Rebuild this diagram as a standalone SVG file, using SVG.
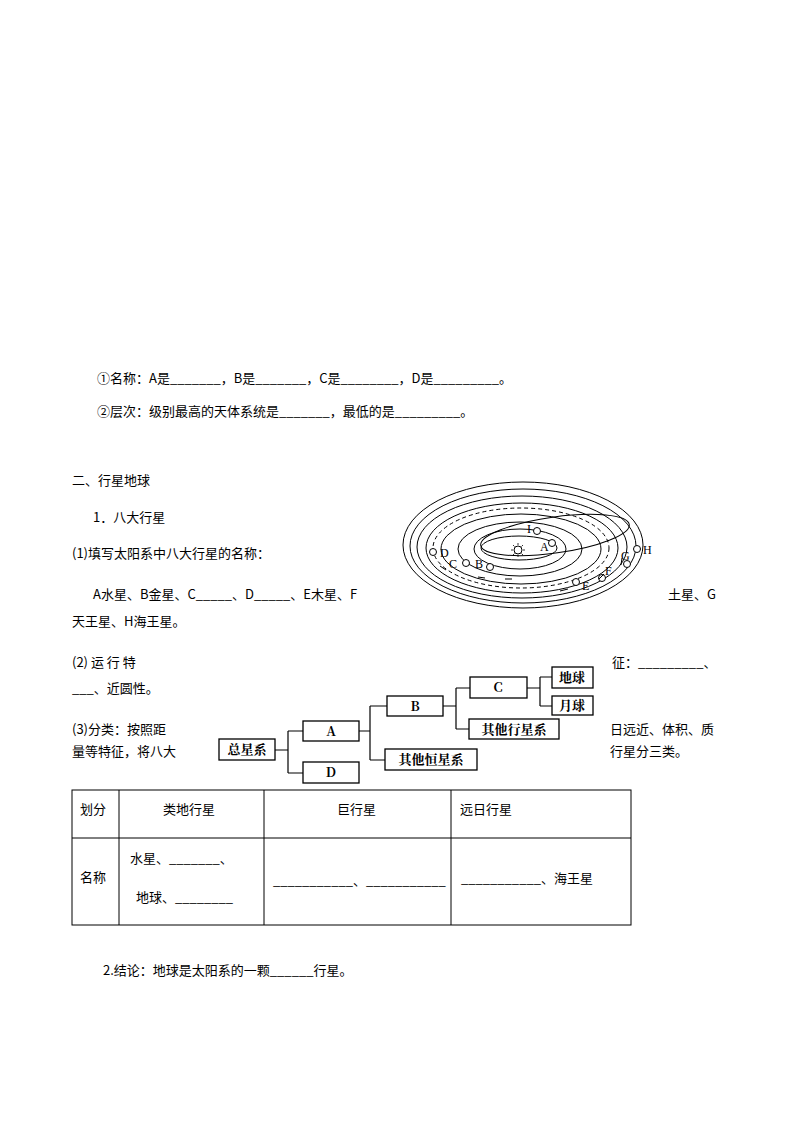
<svg xmlns="http://www.w3.org/2000/svg" width="793" height="1122" viewBox="0 0 793 1122">
<style>
text{font-family:"Liberation Serif","Noto Sans CJK SC",serif;font-size:13px;fill:#000}
.s{font-family:"Noto Sans CJK SC",sans-serif;font-size:13px}
.b{fill:#fff;stroke:#000;stroke-width:1.3}
.bt{font-family:"Noto Serif CJK SC","Noto Sans CJK SC",serif;font-size:13px;font-weight:bold;text-anchor:middle}
.o{fill:none;stroke:#000;stroke-width:1}
.p{fill:#fff;stroke:#000;stroke-width:1}
.l{font-family:"Liberation Serif",serif;font-size:12px}
</style>
<rect width="793" height="1122" fill="#fff"/>
<g id="text">
<text class="s" x="97" y="383">①名称：A是_______，B是_______，C是________，D是_________。</text>
<text class="s" x="97" y="416">②层次：级别最高的天体系统是_______，最低的是_________。</text>
<text class="s" x="72" y="485">二、行星地球</text>
<text class="s" x="93" y="522">1．八大行星</text>
<text class="s" x="72" y="558">(1)填写太阳系中八大行星的名称：</text>
<text class="s" x="93" y="599">A水星、B金星、C_____、D_____、E木星、F</text>
<text class="s" x="668" y="599">土星、G</text>
<text class="s" x="72" y="626">天王星、H海王星。</text>
<text class="s" x="72" y="667">(2)    运    行    特</text>
<text class="s" x="612" y="667">征：_________、</text>
<text class="s" x="72" y="693">___、近圆性。</text>
<text class="s" x="72" y="734">(3)分类：按照距</text>
<text class="s" x="610" y="734">日远近、体积、质</text>
<text class="s" x="72" y="756">量等特征，将八大</text>
<text class="s" x="610" y="756">行星分三类。</text>
<text class="s" x="103" y="975">2.结论：地球是太阳系的一颗______行星。</text>
</g>
<g id="solar">
<ellipse class="o" cx="523" cy="545" rx="120" ry="63"/>
<ellipse class="o" cx="523" cy="546" rx="113" ry="57"/>
<ellipse class="o" cx="522" cy="547" rx="105" ry="51"/>
<ellipse class="o" cx="522" cy="548" rx="96" ry="45"/>
<ellipse class="o" cx="521" cy="548" rx="88" ry="40" stroke-dasharray="4,3"/>
<ellipse class="o" cx="521" cy="549" rx="80" ry="35"/>
<ellipse class="o" cx="520" cy="549" rx="62" ry="27"/>
<ellipse class="o" cx="520" cy="549" rx="46" ry="20"/>
<ellipse class="o" cx="519" cy="548" rx="38" ry="12"/>
<ellipse class="o" cx="555" cy="535" rx="75" ry="18" transform="rotate(-8 555 535)"/>
<circle class="o" cx="518" cy="550" r="4"/>
<g stroke="#000" stroke-width="0.8"><line x1="518" y1="543" x2="518" y2="545"/><line x1="518" y1="555" x2="518" y2="557"/><line x1="511" y1="550" x2="513" y2="550"/><line x1="523" y1="550" x2="525" y2="550"/><line x1="513" y1="545" x2="514.5" y2="546.5"/><line x1="521.5" y1="553.5" x2="523" y2="555"/><line x1="523" y1="545" x2="521.5" y2="546.5"/><line x1="514.5" y1="553.5" x2="513" y2="555"/></g>
<circle class="p" cx="537" cy="531" r="3.5"/><circle class="p" cx="552" cy="543" r="3.5"/>
<circle class="p" cx="433" cy="552" r="3.5"/><circle class="p" cx="466" cy="563" r="3.5"/>
<circle class="p" cx="490" cy="567" r="3.5"/><circle class="p" cx="576" cy="582" r="3.5"/>
<circle class="p" cx="602" cy="578" r="3.5"/><circle class="p" cx="627" cy="564" r="3.5"/>
<circle class="p" cx="637" cy="549" r="3.5"/>
<text class="l" x="527" y="533">I</text><text class="l" x="540" y="551">A</text>
<text class="l" x="440" y="557">D</text><text class="l" x="449" y="568">C</text>
<text class="l" x="475" y="568">B</text><text class="l" x="582" y="590">E</text>
<text class="l" x="605" y="575">F</text><text class="l" x="621" y="560">G</text>
<text class="l" x="643" y="554">H</text>
<g stroke="#000" stroke-width="1"><line x1="440" y1="566" x2="446" y2="570"/><line x1="478" y1="577" x2="485" y2="578"/><line x1="505" y1="579" x2="512" y2="579"/><line x1="560" y1="591" x2="568" y2="589"/><line x1="599" y1="579" x2="604" y2="574"/><line x1="621" y1="565" x2="622" y2="558"/></g>
</g>
<g id="connectors" fill="none" stroke="#000" stroke-width="1.2">
<path d="M275 750H288M288 731V773M288 731H303M288 773H303"/>
<path d="M359 731H370M370 706V760M370 706H387M370 760H385"/>
<path d="M443 706H456M456 688V729M456 688H470M456 729H469"/>
<path d="M527 688H540M540 677V706M540 677H552M540 706H552"/>
</g>
<g id="n-zong"><rect class="b" x="219" y="739" width="56" height="21"/><text class="bt" x="247" y="754">总星系</text></g>
<g id="n-A"><rect class="b" x="303" y="721" width="56" height="20"/><text class="bt" x="331" y="736">A</text></g>
<g id="n-D"><rect class="b" x="303" y="762" width="56" height="21"/><text class="bt" x="331" y="777">D</text></g>
<g id="n-B"><rect class="b" x="387" y="696" width="56" height="20"/><text class="bt" x="415" y="711">B</text></g>
<g id="n-heng"><rect class="b" x="385" y="749" width="92" height="21"/><text class="bt" x="431" y="764">其他恒星系</text></g>
<g id="n-C"><rect class="b" x="470" y="677" width="57" height="21"/><text class="bt" x="498" y="692">C</text></g>
<g id="n-hang"><rect class="b" x="469" y="719" width="90" height="20"/><text class="bt" x="514" y="734">其他行星系</text></g>
<g id="n-earth"><rect class="b" x="552" y="667" width="41" height="21"/><text class="bt" x="572" y="682">地球</text></g>
<g id="n-moon"><rect class="b" x="552" y="696" width="41" height="19"/><text class="bt" x="572" y="710">月球</text></g>
<g id="table">
<g fill="none" stroke="#000" stroke-width="1"><rect x="72" y="790" width="559" height="135"/><line x1="72" y1="838" x2="631" y2="838"/><line x1="119" y1="790" x2="119" y2="925"/><line x1="264" y1="790" x2="264" y2="925"/><line x1="451" y1="790" x2="451" y2="925"/></g>
<text class="s" x="80" y="814">划分</text><text class="s" x="163" y="814">类地行星</text><text class="s" x="337" y="814">巨行星</text><text class="s" x="460" y="814">远日行星</text>
<text class="s" x="80" y="882">名称</text>
<text class="s" x="130" y="863">水星、_______、</text>
<text class="s" x="136" y="902">地球、________</text>
<text class="s" x="273" y="885">___________、___________</text>
<text class="s" x="461" y="883">___________、海王星</text>
</g>
</svg>
